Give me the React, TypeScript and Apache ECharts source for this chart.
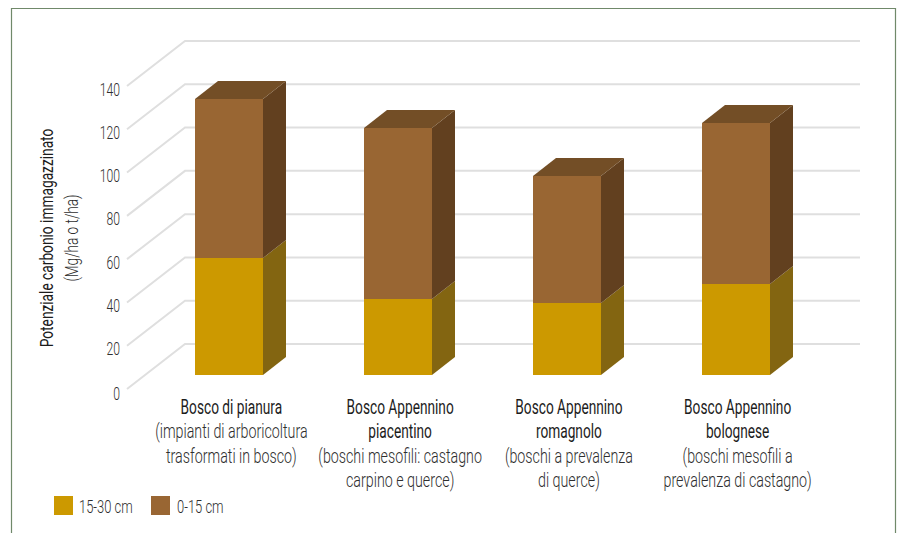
import React, { useEffect, useRef } from "react";
import * as echarts from "echarts";

const categories = [["Bosco di pianura"], ["Bosco Appennino", "piacentino"], ["Bosco Appennino", "romagnolo"], ["Bosco Appennino", "bolognese"]];
const subLabels = [
  ["(impianti di arboricoltura", "trasformati in bosco)"],
  ["(boschi mesofili: castagno", "carpino e querce)"],
  ["(boschi a prevalenza", "di querce)"],
  ["(boschi mesofili a", "prevalenza di castagno)"],
];
const categoryNames = ["Bosco di pianura", "Bosco Appennino piacentino", "Bosco Appennino romagnolo", "Bosco Appennino bolognese"];
const seriesDeep = [54, 35, 33.3, 42];
const seriesTop = [73.6, 79.2, 58.7, 74.5];
const yTicks = [0, 20, 40, 60, 80, 100, 120, 140];
const deepName = "15-30 cm";
const topName = "0-15 cm";
const yTitle = "Potenziale carbonio immagazzinato";
const yUnit = "(Mg/ha o t/ha)";

const FONT = 'Roboto, "Liberation Sans", sans-serif';

const barRender = (front: string, side: string, top: string | null) => (params: any, api: any) => {
  const i = api.value(0);
  const a = api.coord([i, api.value(1)]);
  const b = api.coord([i, api.value(2)]);
  const oy = -14;
  const dx = 23, dy = -18;
  const l = Math.round(a[0] - 34), r = l + 68;
  const y0 = Math.round(a[1] + oy), y1 = Math.round(b[1] + oy);
  const children: any[] = [
    { type: "polygon", shape: { points: [[l, y1], [r, y1], [r, y0], [l, y0]] }, style: { fill: front } },
    { type: "polygon", shape: { points: [[r, y1], [r + dx, y1 + dy], [r + dx, y0 + dy], [r, y0]] }, style: { fill: side } },
  ];
  if (top) {
    children.push({ type: "polygon", shape: { points: [[l, y1], [l + dx, y1 + dy], [r + dx, y1 + dy], [r, y1]] }, style: { fill: top } });
  }
  return { type: "group", children };
};

const gridRender = (params: any, api: any) => {
  const v = api.value(0);
  const p = api.coord([0, v]);
  const y = p[1];
  const x0 = 127, x1 = 185, x2 = 860, d = 45;
  return {
    type: "group",
    children: [
      {
        type: "polyline",
        shape: { points: [[x0, y], [x1, y - d], [x2, y - d]] },
        style: { stroke: "#dfdfdf", lineWidth: 2, fill: "none" },
      },
      {
        type: "text",
        x: 120,
        y: y + 3 + (v === 0 ? 1 : 0),
        scaleX: 0.64,
        style: {
          text: String(v),
          textAlign: "right",
          textVerticalAlign: "middle",
          fontFamily: FONT,
          fontSize: 19,
          fontWeight: 300,
          fill: "#2e2e2e",
        },
      },
    ],
  };
};

const labelRender = (params: any, api: any) => {
  const i = api.value(0);
  const p = api.coord([i, 0]);
  const cx = p[0] + 2;
  const main = categories[i];
  const sub = subLabels[i];
  const lines = [...main.map((t) => ({ t, m: true })), ...sub.map((t) => ({ t, m: false }))];
  return {
    type: "group",
    children: lines.map((ln, k) => ({
      type: "text",
      x: cx,
      y: 407 + k * 24.4,
      scaleX: ln.m ? 0.685 : 0.714,
      style: {
        text: ln.t,
        textAlign: "center",
        textVerticalAlign: "middle",
        fontFamily: FONT,
        fontSize: 20,
        fontWeight: ln.m ? 400 : 300,
        fill: ln.m ? "#1c1c1c" : "#2e2e2e",
      },
    })),
  };
};

const gText = (text: string, x: number, y: number, weight: number, scaleX: number, size: number, rotation = 0) => ({
  type: "text",
  x,
  y,
  rotation,
  scaleX,
  z: 5,
  style: {
    text,
    textAlign: rotation ? "center" : "left",
    textVerticalAlign: "middle",
    fontFamily: FONT,
    fontSize: size,
    fontWeight: weight,
    fill: weight === 400 ? "#1c1c1c" : "#2e2e2e",
  },
});

export default function App() {
  const ref = useRef<HTMLDivElement>(null);
  useEffect(() => {
    const chart = echarts.init(ref.current!, null, { renderer: "svg" });
    chart.setOption({
      animation: false,
      backgroundColor: "#ffffff",
      textStyle: { fontFamily: FONT },
      graphic: [
        {
          type: "polyline",
          z: 0,
          shape: { points: [[11.5, 533], [11.5, 8.5], [895.5, 8.5], [895.5, 533]] },
          style: { stroke: "#70896a", lineWidth: 1.2, fill: "none" },
        },
        gText(yTitle, 47, 238, 400, 0.723, 19, Math.PI / 2),
        gText(yUnit, 72, 238, 300, 0.716, 19, Math.PI / 2),
        gText(deepName, 79, 507, 300, 0.72, 18),
        gText(topName, 177, 507, 300, 0.72, 18),
      ],
      grid: { left: 145, right: 79, top: 86, bottom: 144, containLabel: false },
      legend: {
        data: [deepName, topName],
        left: 54,
        top: 496,
        padding: 0,
        icon: "rect",
        itemWidth: 19,
        itemHeight: 19,
        itemGap: 78,
        selectedMode: false,
        formatter: () => "",
      },
      xAxis: {
        type: "category",
        data: categoryNames,
        axisLine: { show: false },
        axisTick: { show: false },
        axisLabel: { show: false },
      },
      yAxis: {
        type: "value",
        min: 0,
        max: 140,
        interval: 20,
        splitLine: { show: false },
        axisLine: { show: false },
        axisTick: { show: false },
        axisLabel: { show: false },
      },
      series: [
        {
          type: "custom",
          name: "grid",
          silent: true,
          z: 1,
          data: yTicks.map((t) => [t]),
          encode: { y: 0 },
          renderItem: gridRender,
        },
        {
          type: "custom",
          name: "labels",
          silent: true,
          z: 1,
          data: categoryNames.map((_, i) => [i]),
          encode: { x: 0 },
          renderItem: labelRender,
        },
        {
          type: "custom",
          name: deepName,
          z: 2,
          itemStyle: { color: "#cc9900" },
          encode: { x: 0, y: [1, 2] },
          data: seriesDeep.map((v, i) => [i, 0, v]),
          renderItem: barRender("#cc9900", "#836511", null),
        },
        {
          type: "custom",
          name: topName,
          z: 3,
          itemStyle: { color: "#996633" },
          encode: { x: 0, y: [1, 2] },
          data: seriesTop.map((v, i) => [i, seriesDeep[i], seriesDeep[i] + v]),
          renderItem: barRender("#996633", "#62401f", "#734e26"),
        },
      ],
    });
    return () => chart.dispose();
  }, []);
  return <div ref={ref} style={{ position: "fixed", left: 0, top: 0, width: 899, height: 533 }} />;
}
